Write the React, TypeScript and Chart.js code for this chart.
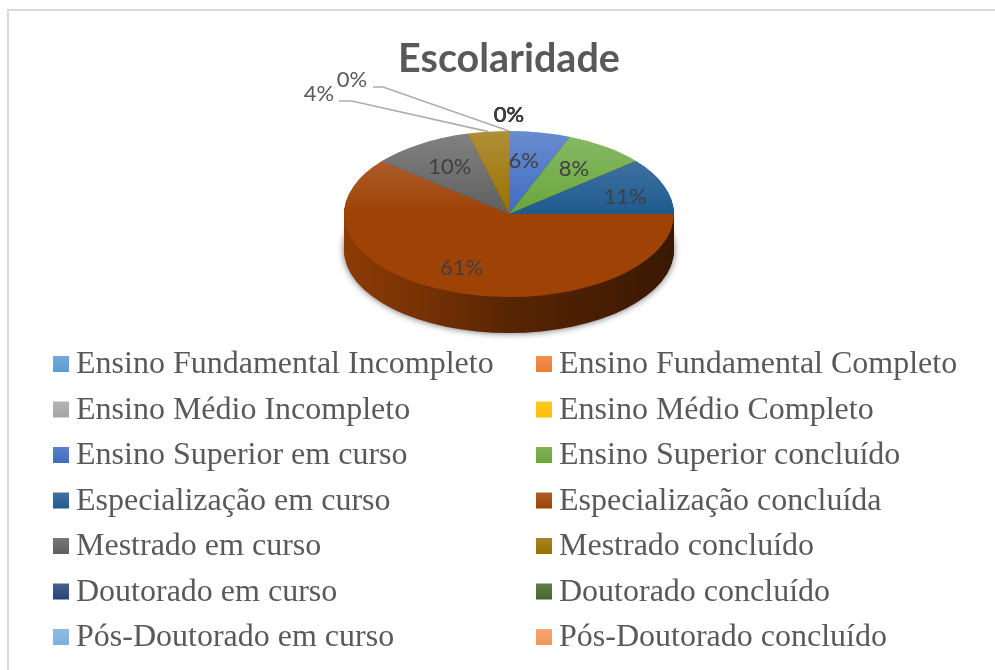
import React, { useEffect, useRef } from "react";
import { Chart, registerables } from "chart.js";

Chart.register(...registerables);

const categories = [
  "Ensino Fundamental Incompleto", "Ensino Fundamental Completo",
  "Ensino Médio Incompleto", "Ensino Médio Completo",
  "Ensino Superior em curso", "Ensino Superior concluído",
  "Especialização em curso", "Especialização concluída",
  "Mestrado em curso", "Mestrado concluído",
  "Doutorado em curso", "Doutorado concluído",
  "Pós-Doutorado em curso", "Pós-Doutorado concluído",
];
const values = [0, 0, 0, 0, 6, 8, 11, 61, 10, 4, 0, 0, 0, 0];
const colors = [
  "#5B9BD5", "#ED7D31", "#A5A5A5", "#FFC000", "#3F6BC2", "#68A63C", "#1F5A90",
  "#9E4206", "#5F5F5F", "#997000", "#264478", "#43682B", "#7CAFDD", "#F1975A",
];
const title = "Escolaridade";

const W = 995, H = 670;
const CX = 509, CY = 214, R = 165;
const SQUASH = 83 / 165;
const DEPTH = 36;
const LABEL_F = 0.67;
const FONT_LABEL = "22px Lato";

// per-slice label nudges from the default radial anchor
const nudges: Record<number, [number, number]> = {
  4: [-6, 2], 5: [0, 0], 6: [12, 2], 7: [-10, 2], 8: [0, 0],
};
// labels with leader lines: label offset, elbow, line start (relative to pie centre)
const leaders: Record<number, { label: [number, number]; elbow: [number, number]; start: [number, number] }> = {
  9: { label: [-190, -120], elbow: [-157, -113], start: [-170, -113] },
  10: { label: [-157, -134], elbow: [-126, -127], start: [-136, -127] },
};

const rgb = (hex: string) => [1, 3, 5].map((i) => parseInt(hex.slice(i, i + 2), 16));
const mix = (hex: string, k: number) => {
  const [r, g, b] = rgb(hex);
  return `rgb(${r + (255 - r) * k},${g + (255 - g) * k},${b + (255 - b) * k})`;
};
const shade = (hex: string, k: number) => {
  const [r, g, b] = rgb(hex);
  return `rgb(${r * k},${g * k},${b * k})`;
};

const pie3d = {
  id: "pie3d",
  beforeDatasetsDraw(chart: any) {
    const ctx = chart.ctx;
    const arcs = chart.getDatasetMeta(0).data;
    const x = arcs[0].x, y = arcs[0].y;
    // side wall: stacked copies of each slice, deepest first
    for (let d = DEPTH; d >= 1; d--) {
      arcs.forEach((a: any, i: number) => {
        if (a.endAngle - a.startAngle <= 0) return;
        ctx.save();
        if (d === DEPTH) {
          ctx.shadowColor = "rgba(0,0,0,0.6)";
          ctx.shadowBlur = 7;
        }
        ctx.translate(x, y + d);
        ctx.scale(1, SQUASH);
        ctx.translate(-x, -y);
        const g = ctx.createLinearGradient(x - a.outerRadius, 0, x + a.outerRadius, 0);
        g.addColorStop(0, shade(colors[i], 0.9));
        g.addColorStop(0.25, shade(colors[i], 0.74));
        g.addColorStop(0.5, shade(colors[i], 0.56));
        g.addColorStop(0.75, shade(colors[i], 0.46));
        g.addColorStop(1, shade(colors[i], 0.36));
        ctx.fillStyle = g;
        ctx.beginPath();
        ctx.moveTo(x, y);
        ctx.arc(x, y, a.outerRadius, a.startAngle, a.endAngle);
        ctx.closePath();
        ctx.fill();
        ctx.restore();
      });
    }
    ctx.save();
    ctx.translate(x, y);
    ctx.scale(1, SQUASH);
    ctx.translate(-x, -y);
  },
  afterDatasetsDraw(chart: any) {
    const ctx = chart.ctx;
    ctx.restore();
    const arcs = chart.getDatasetMeta(0).data;
    const total = values.reduce((s, v) => s + v, 0);
    ctx.save();
    ctx.font = FONT_LABEL;
    ctx.textAlign = "center";
    ctx.textBaseline = "middle";
    arcs.forEach((a: any, i: number) => {
      const mid = (a.startAngle + a.endAngle) / 2;
      const ex = a.x + a.outerRadius * Math.cos(mid);
      const ey = a.y + a.outerRadius * SQUASH * Math.sin(mid);
      const text = `${Math.round((values[i] / total) * 100)}%`;
      const lead = leaders[i];
      if (lead) {
        ctx.strokeStyle = "#adadad";
        ctx.lineWidth = 1.6;
        ctx.beginPath();
        ctx.moveTo(a.x + lead.start[0], a.y + lead.start[1]);
        ctx.lineTo(a.x + lead.elbow[0], a.y + lead.elbow[1]);
        ctx.lineTo(ex, ey);
        ctx.stroke();
        ctx.fillStyle = "#595959";
        ctx.fillText(text, a.x + lead.label[0], a.y + lead.label[1]);
        return;
      }
      if (values[i] === 0) {
        ctx.fillStyle = "#404040";
        ctx.fillText(text, ex, ey - 16);
        return;
      }
      const n = nudges[i] || [0, 0];
      ctx.fillStyle = "#404040";
      ctx.fillText(
        text,
        a.x + LABEL_F * a.outerRadius * Math.cos(mid) + n[0],
        a.y + LABEL_F * a.outerRadius * SQUASH * Math.sin(mid) + n[1]
      );
    });
    ctx.restore();
  },
};

const LEG_X = [53, 536];
const LEG_Y0 = 364, LEG_DY = 45.5, LEG_BOX = 16, LEG_GAP = 7;

const legend2col = {
  id: "legend2col",
  afterDraw(chart: any) {
    const ctx = chart.ctx;
    ctx.save();
    ctx.textBaseline = "middle";
    ctx.textAlign = "left";
    ctx.font = "32px 'Liberation Serif'";
    (chart.data.labels as string[]).forEach((label, i) => {
      const x = LEG_X[i % 2];
      const y = LEG_Y0 + Math.floor(i / 2) * LEG_DY;
      const g = ctx.createLinearGradient(0, y - LEG_BOX / 2, 0, y + LEG_BOX / 2);
      g.addColorStop(0, mix(colors[i], 0.15));
      g.addColorStop(1, colors[i]);
      ctx.fillStyle = g;
      ctx.fillRect(x, y - LEG_BOX / 2, LEG_BOX, LEG_BOX);
      ctx.fillStyle = "#595959";
      ctx.fillText(label, x + LEG_BOX + LEG_GAP, y + 1);
    });
    ctx.restore();
  },
};

export default function App() {
  const ref = useRef<HTMLCanvasElement>(null);
  useEffect(() => {
    const canvas = ref.current!;
    const ctx = canvas.getContext("2d")!;
    const fills = colors.map((c) => {
      const g = ctx.createLinearGradient(0, CY - R, 0, CY + R);
      g.addColorStop(0, mix(c, 0.22));
      g.addColorStop(0.5, c);
      g.addColorStop(1, c);
      return g;
    });
    const chart = new Chart(canvas, {
      type: "pie",
      data: {
        labels: categories,
        datasets: [{ data: values, backgroundColor: fills, borderWidth: 0 }],
      },
      plugins: [pie3d, legend2col],
      options: {
        responsive: false,
        animation: false,
        events: [],
        layout: {
          padding: { left: CX - R, right: W - CX - R, top: 36, bottom: H - CY - R },
        },
        plugins: {
          legend: { display: false },
          tooltip: { enabled: false },
          title: {
            display: true,
            text: title,
            color: "#595959",
            font: { family: "Lato", weight: "bold", size: 39.5, lineHeight: 1.2 },
            padding: { top: 0, bottom: -34.4 },
          },
        },
      },
    } as any);
    return () => chart.destroy();
  }, []);
  return (
    <div style={{ position: "absolute", left: 0, top: 0, width: W, height: H, background: "#fff", overflow: "hidden" }}>
      <canvas ref={ref} width={W} height={H} style={{ display: "block" }} />
      <div
        style={{
          position: "absolute", left: 7, top: 9, right: 0, bottom: 0,
          borderLeft: "2px solid #d9d9d9", borderTop: "2px solid #d9d9d9",
          pointerEvents: "none",
        }}
      />
    </div>
  );
}
